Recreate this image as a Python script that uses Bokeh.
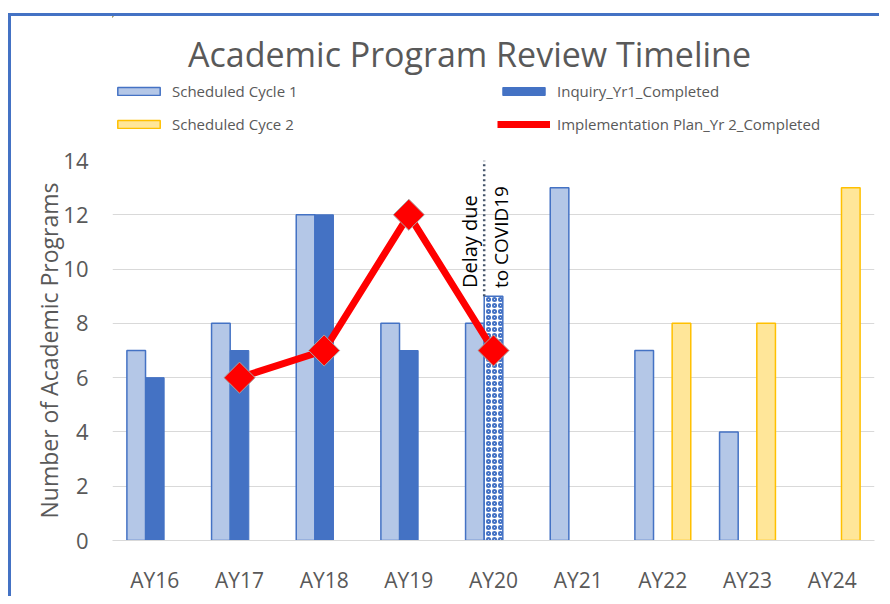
import math
from bokeh.plotting import figure
from bokeh.layouts import column
from bokeh.models import Legend, LegendItem, FixedTicker, Range1d, ColumnDataSource
from bokeh.core.properties import value
from bokeh.embed import file_html
from bokeh.resources import INLINE

# ---- data ----
years = ["AY16", "AY17", "AY18", "AY19", "AY20", "AY21", "AY22", "AY23", "AY24"]
scheduled_cycle1 = [7, 8, 12, 8, 8, 13, 7, 4, 0]
inquiry_yr1 = [6, 7, 12, 7, 9, 0, 0, 0, 0]
delayed_years = ["AY20"]
scheduled_cycle2 = [0, 0, 0, 0, 0, 0, 8, 8, 13]
impl_years = ["AY17", "AY18", "AY19", "AY20"]
impl_plan_yr2 = [6, 7, 12, 7]
y_ticks = [0, 2, 4, 6, 8, 10, 12, 14]

GRAY = "#595959"
FONT = "Open Sans"
BW = 0.22
W, HH, HM = 868, 130, 450

STY1 = dict(fill_color="#B4C7E7", line_color="#4472C4", line_width=1.5)
STY_INQ = dict(fill_color="#4472C4", line_color="#4472C4", line_width=1)
STY2 = dict(fill_color="#FFE699", line_color="#FFC000", line_width=1.5)
STY_LINE = dict(line_color="#FF0000", line_width=7)

idx = {y: i for i, y in enumerate(years)}

def src(vals, offset, keep=lambda y: True):
    xs, ts = [], []
    for y, v in zip(years, vals):
        if v and keep(y):
            xs.append(idx[y] + offset)
            ts.append(v)
    return ColumnDataSource(dict(x=xs, top=ts))

s1 = src(scheduled_cycle1, -BW)
s_inq = src(inquiry_yr1, 0, lambda y: y not in delayed_years)
s_del = src(inquiry_yr1, 0, lambda y: y in delayed_years)
s2 = src(scheduled_cycle2, BW)
ix = [idx[y] for y in impl_years]
s_line = ColumnDataSource(dict(x=ix, y=impl_plan_yr2))

# ---------- main chart ----------
p = figure(width=W, height=HM, output_backend="svg", toolbar_location=None,
           x_range=Range1d(-0.5, 8.5), y_range=Range1d(0, 14),
           min_border_left=101, min_border_right=5, min_border_top=14, min_border_bottom=54)
p.outline_line_color = None
p.xgrid.grid_line_color = None
p.ygrid.grid_line_color = "#D9D9D9"
p.ygrid.grid_line_width = 1.2

p.vbar(x="x", top="top", width=BW, source=s1, **STY1)
p.vbar(x="x", top="top", width=BW, source=s_inq, **STY_INQ)
p.vbar(x="x", top="top", width=BW, source=s_del,
       fill_color="white", line_color="#4472C4", line_width=1.5,
       hatch_pattern="ring", hatch_color="#4472C4", hatch_scale=6, hatch_weight=2)
p.vbar(x="x", top="top", width=BW, source=s2, **STY2)
p.line(x="x", y="y", source=s_line, **STY_LINE)
p.scatter(x="x", y="y", source=s_line, marker="square", size=22, angle=math.pi / 4,
          fill_color="#FF0000", line_color="#A6A6A6", line_width=1)

# COVID delay marker
d = idx[delayed_years[0]]
dv = inquiry_yr1[d]
p.segment(x0=[d - BW / 2], y0=[dv], x1=[d - BW / 2], y1=[14], line_color="#44546A",
          line_width=2.5, line_dash="2 3")
p.text(x=[d - 0.28], y=[dv + 0.3], text=["Delay due"], angle=math.pi / 2,
       text_align="left", text_baseline="middle", text_font=value(FONT),
       text_font_size="20px", text_color="black")
p.text(x=[d + 0.09], y=[dv + 0.3], text=["to COVID19"], angle=math.pi / 2,
       text_align="left", text_baseline="middle", text_font=value(FONT),
       text_font_size="19px", text_color="black")

p.xaxis.ticker = FixedTicker(ticks=list(range(len(years))))
p.xaxis.major_label_overrides = {i: y for i, y in enumerate(years)}
p.xaxis.axis_line_color = "#D9D9D9"
p.xaxis.axis_line_width = 1.2
p.xaxis.major_tick_line_color = None
p.xaxis.minor_tick_line_color = None
p.xaxis.major_label_text_font = FONT
p.xaxis.major_label_text_font_size = "21px"
p.xaxis.major_label_text_color = GRAY
p.xaxis.major_label_standoff = 19

p.yaxis.ticker = FixedTicker(ticks=y_ticks)
p.yaxis.axis_line_color = None
p.yaxis.major_tick_line_color = None
p.yaxis.minor_tick_line_color = None
p.yaxis.major_label_text_font = FONT
p.yaxis.major_label_text_font_size = "22px"
p.yaxis.major_label_text_color = GRAY
p.yaxis.major_label_standoff = 18
p.yaxis.axis_label = "Number of Academic Programs"
p.yaxis.axis_label_text_font = FONT
p.yaxis.axis_label_text_font_size = "23px"
p.yaxis.axis_label_text_font_style = "normal"
p.yaxis.axis_label_text_color = GRAY
p.yaxis.axis_label_standoff = -5

# ---------- header: title + legend (frame aligned with the chart frame) ----------
h = figure(width=W, height=HH, output_backend="svg", toolbar_location=None,
           x_range=Range1d(100, 862), y_range=Range1d(-131, -1),
           x_axis_location=None, y_axis_location=None,
           min_border_left=101, min_border_right=5, min_border_top=0, min_border_bottom=0)
h.outline_line_color = None
h.grid.visible = False
h.text(x=[457], y=[-38], text=["Academic Program Review Timeline"],
       text_align="center", text_baseline="middle", text_font=value(FONT),
       text_font_size="34px", text_color=GRAY)

# legend proxies share the chart's sources; they lie outside this header's ranges
l1 = h.vbar(x="x", top="top", width=BW, source=s1, **STY1)
l2 = h.vbar(x="x", top="top", width=BW, source=s_inq, **STY_INQ)
l3 = h.vbar(x="x", top="top", width=BW, source=s2, **STY2)
l4 = h.line(x="x", y="y", source=s_line, **STY_LINE)

def make_legend(items, x):
    return Legend(items=items, location=(x, 12), orientation="vertical",
                  padding=0, margin=0, spacing=13, border_line_color=None,
                  background_fill_alpha=0, glyph_width=53, glyph_height=10,
                  label_standoff=7, label_text_font=FONT, label_text_font_size="15px",
                  label_text_color=GRAY, label_height=14)

h.add_layout(make_legend([LegendItem(label="Scheduled Cycle 1", renderers=[l1]),
                          LegendItem(label="Scheduled Cyce 2", renderers=[l3])], 0), "center")
h.add_layout(make_legend([LegendItem(label="Inquiry_Yr1_Completed", renderers=[l2]),
                          LegendItem(label="Implementation Plan_Yr 2_Completed", renderers=[l4])], 385), "center")

layout = column(h, p, spacing=0,
                styles={"border-left": "3px solid #4472C4", "border-top": "3px solid #4472C4"},
                margin=(13, 0, 0, 8))

open("out.html", "w").write(file_html(layout, INLINE))
